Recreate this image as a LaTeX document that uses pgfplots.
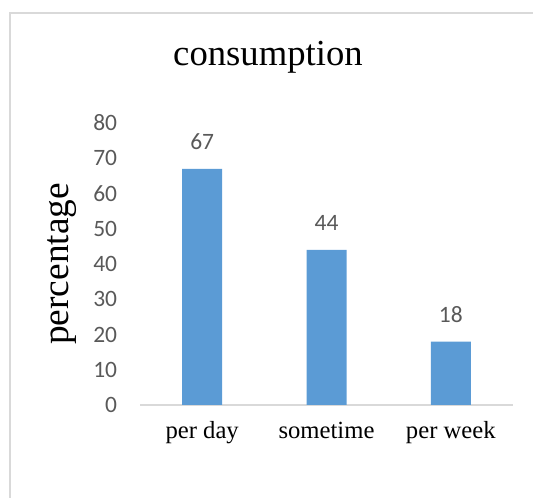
\documentclass[border=0pt]{standalone}
\usepackage{pgfplots}
\pgfplotsset{compat=1.18}
\usepackage{fontspec}
\setmainfont{Liberation Serif}
\newfontfamily\carlito{Carlito}
\definecolor{barblue}{HTML}{5B9BD5}
\definecolor{ticktext}{HTML}{595959}
\definecolor{linegray}{HTML}{D9D9D9}
\begin{document}
\begin{tikzpicture}
\useasboundingbox (0,0) rectangle (399.75pt,373.5pt);
\draw[linegray, line width=1.5pt] (7.5pt,-5pt) -- (7.5pt,363.5pt) -- (410pt,363.5pt);
\begin{axis}[
  at={(105pt,69.75pt)}, anchor=south west,
  scale only axis, width=279.75pt, height=211.5pt,
  xmin=-0.5, xmax=2.5, ymin=0, ymax=80,
  ybar, bar width=30pt,
  axis lines*=left,
  axis line style={-},
  x axis line style={draw=linegray, line width=1.5pt},
  y axis line style={draw=none},
  major tick length=0pt,
  xtick=data,
  xticklabels={per day, sometime, per week},
  ytick={0,10,...,80},
  /pgf/number format/assume math mode=true,
  xticklabel style={font=\fontsize{18.5}{20}\selectfont, anchor=base, inner sep=0pt, yshift=-25.5pt},
  yticklabel style={font=\fontsize{17.6}{19}\selectfont\carlito, color=ticktext, anchor=east, inner sep=0pt, xshift=-17pt},
  ylabel={percentage},
  ylabel style={font=\fontsize{28}{30}\selectfont, at={(axis description cs:0,0.5)}, anchor=center, yshift=58.5pt},
  title={consumption},
  title style={font=\fontsize{27.5}{29}\selectfont, at={(axis description cs:0.5,1)}, anchor=base, yshift=37pt, xshift=-43.9pt},
  nodes near coords,
  nodes near coords style={font=\fontsize{17.6}{19}\selectfont\carlito, color=ticktext, anchor=base, inner sep=0pt, yshift=14.25pt},
]
\addplot[fill=barblue, draw=none] coordinates {(0,67) (1,44) (2,18)};
\end{axis}
\end{tikzpicture}
\end{document}
